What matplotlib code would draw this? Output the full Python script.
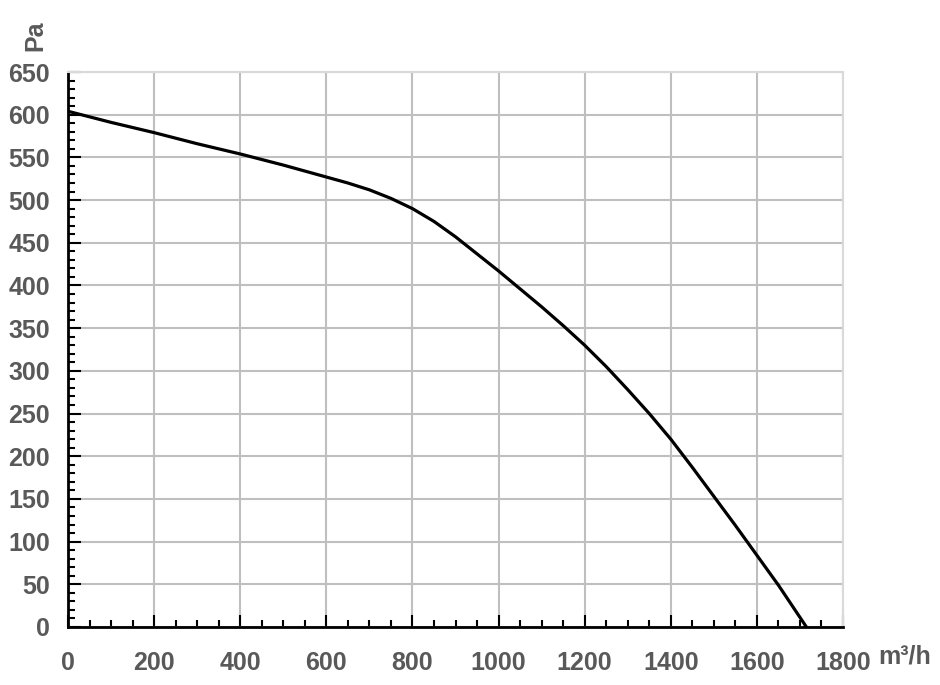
import matplotlib.pyplot as plt
from matplotlib.ticker import MultipleLocator

# fan curve
flow = [0, 100, 200, 300, 400, 500, 600, 650, 700, 750, 800, 850, 900, 950, 1000,
        1050, 1100, 1150, 1200, 1250, 1300, 1350, 1400, 1450, 1500, 1550, 1600,
        1650, 1715]
pressure = [604, 591, 579, 566, 554, 541, 527, 520, 512, 502, 490, 475, 457, 437, 417,
            396, 375, 353, 330, 305, 278, 250, 220, 187, 153, 119, 84,
            49, 0]

x_ticks = list(range(0, 1801, 200))
y_ticks = list(range(0, 651, 50))

plt.rcParams['font.family'] = ['Liberation Sans', 'DejaVu Sans']
txt = '#595959'

fig = plt.figure(figsize=(9.4, 6.85), dpi=100)
ax = fig.add_axes((68/940, 58/685, 775/940, 555/685))

ax.plot(flow, pressure, color='black', lw=2.3, solid_joinstyle='round', zorder=3)

ax.set_xlim(0, 1800)
ax.set_ylim(0, 650)
ax.set_xticks(x_ticks)
ax.set_yticks(y_ticks)
ax.xaxis.set_minor_locator(MultipleLocator(50))
ax.yaxis.set_minor_locator(MultipleLocator(10))
ax.grid(True, which='major', color='#bfbfbf', lw=1.5, zorder=0)

ax.tick_params(which='both', direction='in', top=False, right=False,
               colors='black', width=1.5)
ax.tick_params(which='major', length=9)
ax.tick_params(which='minor', length=5)
ax.tick_params(axis='x', pad=17)
ax.tick_params(axis='y', pad=13)
for lab in ax.get_xticklabels() + ax.get_yticklabels():
    lab.set_fontsize(18)
    lab.set_fontweight('bold')
    lab.set_color(txt)

for s in ['left', 'bottom']:
    ax.spines[s].set_linewidth(2)
    ax.spines[s].set_color('black')
for s in ['top', 'right']:
    ax.spines[s].set_linewidth(1.5)
    ax.spines[s].set_color('#d9d9d9')

fig.text(35/940, 1 - 36/685, 'Pa', rotation=90, ha='center', va='center',
         fontsize=18, fontweight='bold', color=txt)
fig.text(905/940, 1 - 657/685, 'm³/h', ha='center', va='center',
         fontsize=18, fontweight='bold', color=txt)

fig.savefig('out.png', dpi=100)
